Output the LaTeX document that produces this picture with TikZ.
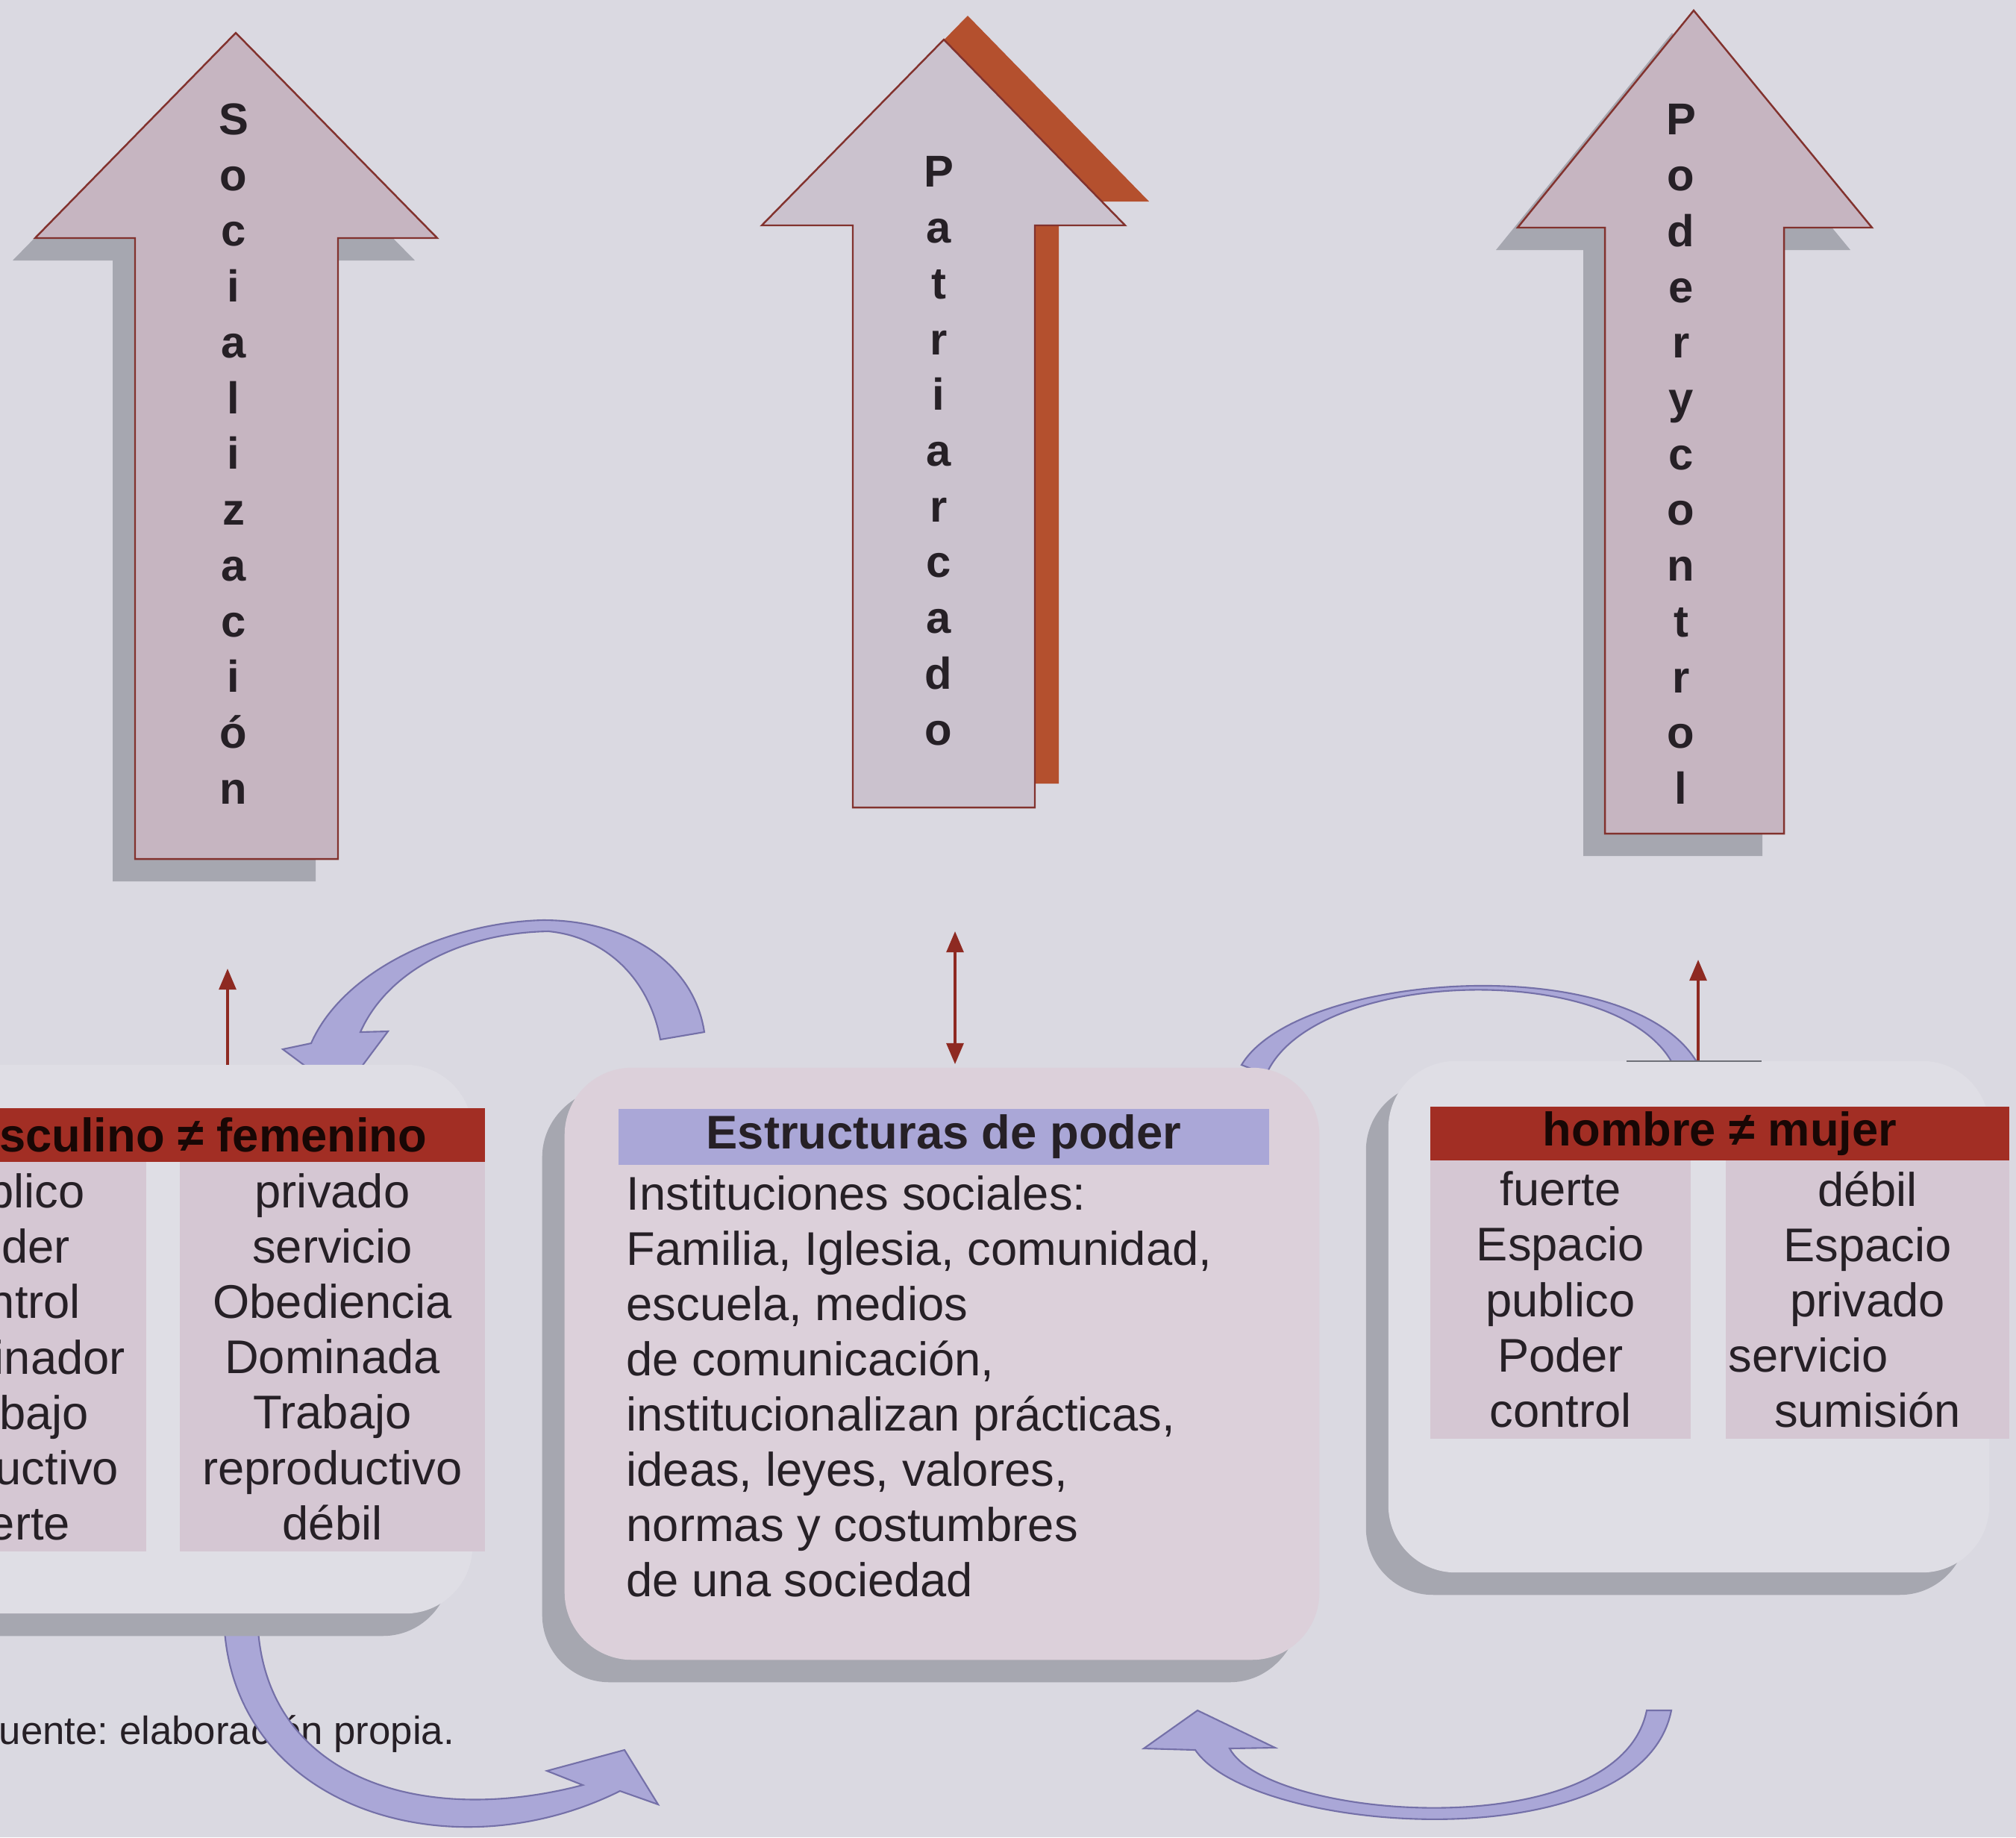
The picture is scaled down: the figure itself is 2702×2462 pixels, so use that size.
\documentclass[tikz,border=0pt]{standalone}
\usepackage{fontspec}
\setmainfont{Liberation Sans}
\usetikzlibrary{arrows.meta, shadows}
\usetikzlibrary{positioning}
\usepackage{xcolor}
\definecolor{fondo}{RGB}{218,217,225}
\definecolor{cajaclara}{RGB}{223,222,229}
\definecolor{sombra}{RGB}{166,167,176}
\definecolor{malva}{RGB}{198,181,193}
\definecolor{malvagris}{RGB}{203,194,206}
\definecolor{borde}{RGB}{130,50,46}
\definecolor{teja}{RGB}{180,80,46}
\definecolor{lila}{RGB}{170,167,215}
\definecolor{lilaborde}{RGB}{116,112,168}
\definecolor{rojo}{RGB}{162,46,36}
\definecolor{rosa}{RGB}{213,199,211}
\definecolor{cajarosa}{RGB}{220,208,218}
\definecolor{flecha}{RGB}{142,42,34}
\definecolor{texto}{RGB}{38,32,38}
\definecolor{gris}{RGB}{110,112,120}
\frenchspacing

\begin{document}
\begin{tikzpicture}[x=0.01cm, y=-0.01cm,
		every node/.style={font=\fontsize{18}{21.1}\selectfont, text=texto, inner sep=0pt},
		letras/.style={font=\fontsize{17}{21.25}\selectfont\bfseries, align=center, anchor=north},
		grande/.style={fill=malva, draw=borde, line width=0.7pt},
		curva/.style={fill=lila, draw=lilaborde, line width=0.6pt},
		caja/.style={rectangle, rounded corners=0.9cm, fill=cajaclara,
			drop shadow={shadow xshift=-0.3cm, shadow yshift=-0.3cm, fill=sombra, opacity=1}},
		rojobar/.style={fill=rojo, text=black!85!rojo, font=\fontsize{18}{21.1}\selectfont\bfseries},
		lilabar/.style={fill=lila, font=\fontsize{18}{21.1}\selectfont\bfseries},
		celda/.style={fill=rosa, align=center},
		flechita/.style={draw=flecha, line width=1pt, -{Triangle[width=6.5pt,length=8pt]}}]
		
		\useasboundingbox (0,0) rectangle (2702,2462);
		\clip (0,0) rectangle (2702,2462);
		\fill[fondo] (0,0) rectangle (2702,2462);
		
		\node[anchor=base west, font=\fontsize{15}{18}\selectfont] (fuente) at (-34,2337) {Fuente: elaboración propia.};
		
		% flechas curvas
		\draw[curva] (944,1383) .. controls (930,1290) and (840,1233) .. (728,1233)
			.. controls (600,1236) and (460,1300) .. (417,1398) -- (379,1406) -- (458,1465) -- (520,1382) -- (483,1383)
			.. controls (520,1300) and (620,1250) .. (735,1248)
			.. controls (810,1255) and (870,1310) .. (885,1393) -- cycle;
		\draw[curva] (300,2160) .. controls (300,2420) and (600,2515) .. (831,2400) -- (882,2418) -- (837,2345) -- (733,2373) -- (781,2392)
			.. controls (560,2450) and (345,2380) .. (345,2160) -- cycle;
		\draw[curva] (1664,1427) .. controls (1740,1300) and (2200,1270) .. (2279,1432) -- (2245,1432)
			.. controls (2180,1285) and (1760,1295) .. (1697,1440) -- cycle;
		\draw[curva] (2240,2292) .. controls (2200,2495) and (1680,2460) .. (1602,2345) -- (1533,2343) -- (1605,2292) -- (1709,2342) -- (1648,2343)
			.. controls (1700,2440) and (2170,2475) .. (2207,2292) -- cycle;
		
		% cajas
		\node[caja, minimum width=8.33cm, minimum height=7.35cm] (izq) at (216.5,1794.5) {};
		\node[caja, fill=cajarosa, minimum width=10.11cm, minimum height=7.93cm,
			drop shadow={shadow xshift=-0.28cm, shadow yshift=-0.28cm, fill=sombra, opacity=1}] (estructuras) at (1262.5,1827.5) {};
		\node[caja, minimum width=8.05cm, minimum height=6.85cm] (der) at (2263.5,1764.5) {};
		
		\node[rojobar, minimum width=8.2cm, minimum height=0.72cm] (mascfem) at (240,1521) {masculino ≠ femenino};
		\node[celda, minimum width=3.66cm, minimum height=5.22cm] (masc) at (13,1818)
			{público\\poder\\control\\Dominador\\Trabajo\\productivo\\fuerte};
		\node[celda, minimum width=4.09cm, minimum height=5.22cm] (fem) at (445.5,1818)
			{privado\\servicio\\Obediencia\\Dominada\\Trabajo\\reproductivo\\débil};
		
		\node[lilabar, minimum width=8.72cm, minimum height=0.75cm] (estructuras-tit) at (1265,1523.5) {Estructuras de poder};
		\node[anchor=north west, align=left, font=\fontsize{18}{21.05}\selectfont] (instituciones) at (839,1575)
			{Instituciones sociales:\\Familia, Iglesia, comunidad,\\escuela, medios\\de comunicación,\\institucionalizan prácticas,\\ideas, leyes, valores,\\normas y costumbres\\de una sociedad};
		
		\node[rojobar, minimum width=7.76cm, minimum height=0.72cm] (hombremujer) at (2305,1519) {hombre ≠ mujer};
		\node[celda, minimum width=3.49cm, minimum height=3.73cm] (hombre) at (2091.5,1741.5)
			{fuerte\\Espacio\\publico\\Poder\\control};
		\node[celda, minimum width=3.8cm, minimum height=3.73cm] (mujer) at (2503,1741.5)
			{débil\\Espacio\\privado\\servicio\kern2.5em\\sumisión};
		
		% flechas grandes
		\fill[sombra, shift={(-30,30)}] (316,44) -- (586,319) -- (453,319) -- (453,1151) -- (181,1151) -- (181,319) -- (47,319) -- cycle;
		\draw[grande] (316,44) -- (586,319) -- (453,319) -- (453,1151) -- (181,1151) -- (181,319) -- (47,319) -- cycle;
		\node[letras] (socializacion) at (313,138) {S\\o\\c\\i\\a\\l\\i\\z\\a\\c\\i\\ó\\n};
		
		\fill[teja, shift={(32,-32)}] (1265,53) -- (1508,302) -- (1387,302) -- (1387,1082) -- (1143,1082) -- (1143,302) -- (1021,302) -- cycle;
		\draw[grande, fill=malvagris] (1265,53) -- (1508,302) -- (1387,302) -- (1387,1082) -- (1143,1082) -- (1143,302) -- (1021,302) -- cycle;
		\node[letras] (patriarcado) at (1258,209) {P\\a\\t\\r\\i\\a\\r\\c\\a\\d\\o};
		
		\fill[sombra, shift={(-29,30)}] (2270,14) -- (2509,305) -- (2391,305) -- (2391,1117) -- (2151,1117) -- (2151,305) -- (2034,305) -- cycle;
		\draw[grande] (2270,14) -- (2509,305) -- (2391,305) -- (2391,1117) -- (2151,1117) -- (2151,305) -- (2034,305) -- cycle;
		\node[letras] (podercontrol) at (2253,139) {P\\o\\d\\e\\r\\y\\c\\o\\n\\t\\r\\o\\l};
		
		% flechas pequeñas
		\coordinate (izq-arriba) at (305,1427);
		\coordinate (soc-pie) at (305,1298);
		\coordinate (est-arriba) at (1280,1426);
		\coordinate (pat-pie) at (1280,1248);
		\coordinate (der-arriba) at (2276,1422);
		\coordinate (pod-pie) at (2276,1286);
		\coordinate (borde-a) at (2180,1422);
		\coordinate (borde-b) at (2361,1422);
		\draw[flechita] (izq-arriba) -- (soc-pie);
		\draw[flechita, {Triangle[width=6.5pt,length=8pt]}-{Triangle[width=6.5pt,length=8pt]}] (pat-pie) -- (est-arriba);
		\draw[flechita] (der-arriba) -- (pod-pie);
		\draw[gris, line width=0.8pt] (borde-a) -- (borde-b);
	\end{tikzpicture}
\end{document}
